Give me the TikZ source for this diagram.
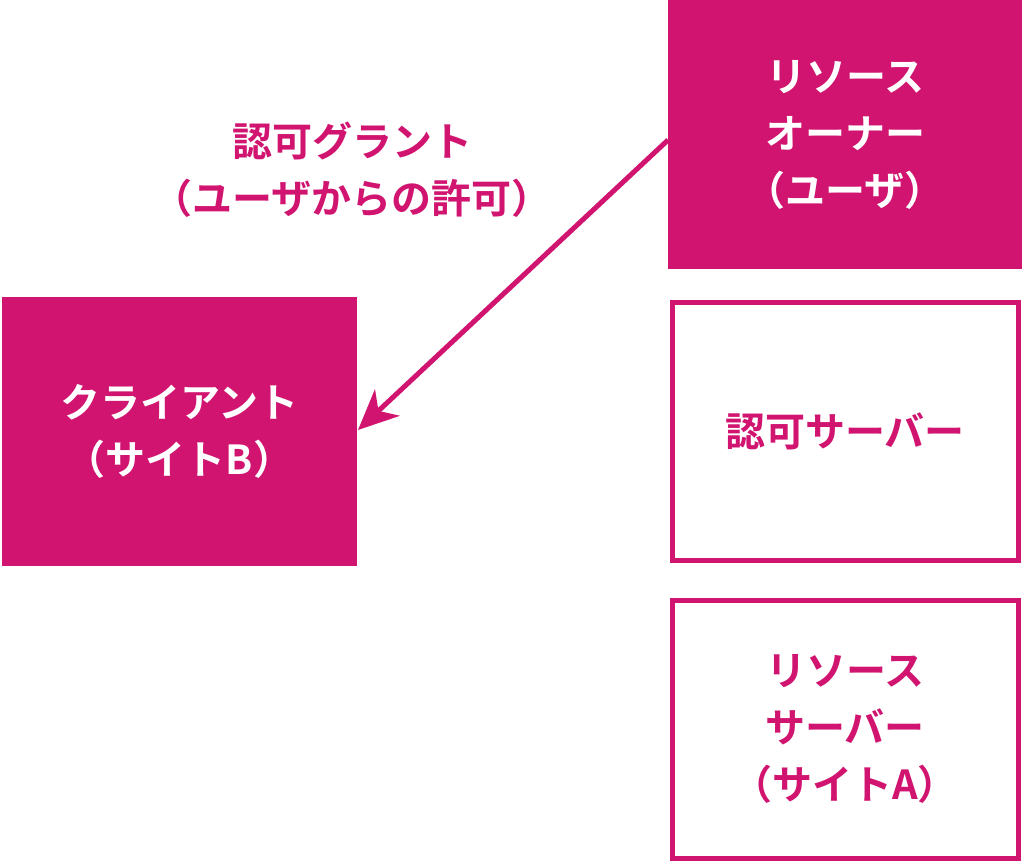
\documentclass[tikz,border=0pt]{standalone}
\usepackage{fontspec}
\setmainfont{Noto Sans CJK JP}[BoldFont={Noto Sans CJK JP Bold}]
\usetikzlibrary{arrows.meta}
\definecolor{mg}{HTML}{D0146F}
\begin{document}
\begin{tikzpicture}[x=1pt,y=-1pt,
  lbl/.style={font=\fontsize{40}{57}\selectfont\bfseries,align=center},
  filledbox/.style={fill=mg,draw=none,text=white,lbl},
  outbox/.style={draw=mg,line width=5pt,text=mg,lbl}]
\useasboundingbox (0,0) rectangle (1024,864);
\node[filledbox,minimum width=354pt,minimum height=269pt] (owner) at (845,134.5) {リソース\\オーナー\\（ユーザ）};
\node[outbox,minimum width=346pt,minimum height=258pt] (auth) at (845,431) {認可サーバー};
\node[outbox,minimum width=346pt,minimum height=258pt] (rs) at (845,729) {リソース\\サーバー\\（サイトA）};
\node[filledbox,minimum width=355pt,minimum height=269pt] (client) at (179.5,431.5) {クライアント\\（サイトB）};
\coordinate (s) at (668,140);
\coordinate (e) at (358,430);
\draw[mg,line width=5pt,-{Stealth[length=40pt,width=36pt,inset=12pt]}] (s) -- (e);
\node[lbl,text=mg] (grant) at (352,170) {認可グラント\\（ユーザからの許可）};
\end{tikzpicture}
\end{document}
